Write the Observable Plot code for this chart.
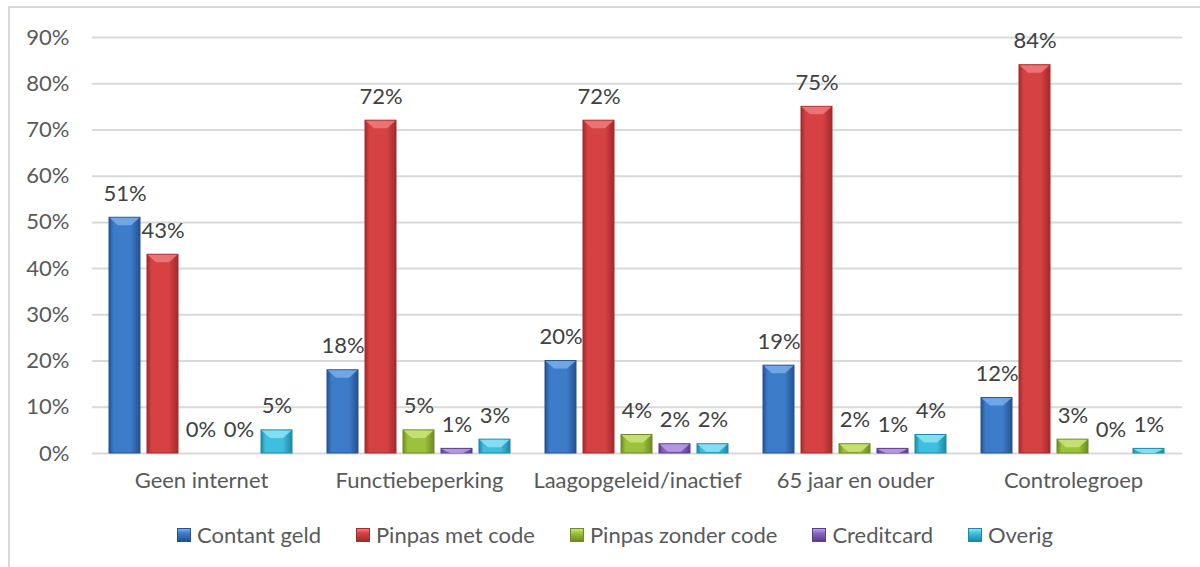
<!DOCTYPE html>
<html>
<head>
<meta charset="utf-8">
<script src="https://cdn.jsdelivr.net/npm/d3@7"></script>
<script src="https://cdn.jsdelivr.net/npm/@observablehq/plot@0.6"></script>
<style>
  html, body { margin: 0; padding: 0; background: #fff; }
  body { width: 1200px; height: 567px; position: relative; overflow: hidden; font-family: Lato, "Open Sans", sans-serif; }
  #frame { position: absolute; left: 8px; top: 6px; width: 1210px; height: 600px; border: 2px solid #d9d9d9; box-sizing: border-box; }
  #chart { position: absolute; left: 0; top: 0; }
  #legend { position: absolute; left: 0; width: 1230px; top: 521px; display: flex; justify-content: center; gap: 35px; font-size: 22px; color: #595959; }
  .item { display: flex; align-items: center; gap: 6px; white-space: nowrap; }
  .sw { width: 14px; height: 14px; display: inline-block; box-sizing: border-box; }
</style>
</head>
<body>
<div id="frame"></div>
<div id="chart"></div>
<div id="legend"></div>
<script>
const categories = ["Geen internet", "Functiebeperking", "Laagopgeleid/inactief", "65 jaar en ouder", "Controlegroep"];
const series = ["Contant geld", "Pinpas met code", "Pinpas zonder code", "Creditcard", "Overig"];
const contantGeld      = [51, 18, 20, 19, 12];
const pinpasMetCode    = [43, 72, 72, 75, 84];
const pinpasZonderCode = [0, 5, 4, 2, 3];
const creditcard       = [0, 1, 2, 1, 0];
const overig           = [5, 3, 2, 4, 1];
const yTicks = [0, 10, 20, 30, 40, 50, 60, 70, 80, 90];

// colours: [edge dark, middle, light bevel]
const palette = [
  ["#25528f", "#3d7cc9", "#79aee8"],
  ["#a32a2b", "#d64244", "#f07b7b"],
  ["#6f8a25", "#9cc23c", "#cde57a"],
  ["#5a3f8c", "#8a66c4", "#b9a0e6"],
  ["#1f88a6", "#3fbfe0", "#8fe3f6"]
];

const seriesValues = [contantGeld, pinpasMetCode, pinpasZonderCode, creditcard, overig];
const data = [];
categories.forEach((c, ci) => series.forEach((s, si) => data.push({category: c, series: s, value: seriesValues[si][ci]})));

const font = "Lato, 'Open Sans', sans-serif";

const chart = Plot.plot({
  width: 1200,
  height: 510,
  marginTop: 37,
  marginBottom: 57,
  marginLeft: 90,
  marginRight: 17,
  style: {fontFamily: font, fontSize: "22px", color: "#595959", background: "transparent"},
  fx: {domain: categories, padding: 0, label: null},
  x: {domain: series, paddingInner: 0.18, paddingOuter: 0.39, axis: null},
  y: {domain: [0, 90], label: null},
  marks: [
    Plot.gridY(yTicks, {stroke: "#d9d9d9", strokeOpacity: 1, strokeWidth: 2}),
    Plot.axisY(yTicks, {tickSize: 0, tickPadding: 23, tickFormat: d => d + "%", fill: "#595959", fontSize: 22, label: null}),
    Plot.axisFx({anchor: "bottom", tickSize: 0, tickPadding: 19, label: null, fill: "#595959", fontSize: 22}),
    ...series.map((s, i) => Plot.barY(data.filter(d => d.series === s), {
      fx: "category", x: "series", y: "value", fill: `url(#grad${i})`, stroke: palette[i][0], strokeWidth: 1
    })),
    Plot.text(data, {fx: "category", x: "series", y: "value", text: d => d.value + "%", dy: -24, fill: "#404040", fontSize: 22, lineAnchor: "middle"})
  ]
});

document.getElementById("chart").appendChild(chart);

// gradients
const svg = d3.select(chart);
const defs = svg.insert("defs", ":first-child");
palette.forEach((p, i) => {
  const g = defs.append("linearGradient").attr("id", `grad${i}`).attr("x1", 0).attr("x2", 1).attr("y1", 0).attr("y2", 0);
  g.append("stop").attr("offset", "0%").attr("stop-color", p[0]);
  g.append("stop").attr("offset", "15%").attr("stop-color", p[1]);
  g.append("stop").attr("offset", "70%").attr("stop-color", p[1]);
  g.append("stop").attr("offset", "100%").attr("stop-color", p[0]);
});

// bevel on top of each bar
svg.selectAll("g[aria-label='bar']").each(function(_, gi) {
  const light = palette[gi][2];
  d3.select(this).selectAll("rect").each(function() {
    const r = d3.select(this);
    const x = +r.attr("x"), y = +r.attr("y"), w = +r.attr("width"), h = +r.attr("height");
    if (!(h > 0)) return;
    const bh = Math.min(8, h);
    const inset = Math.min(9, w / 2);
    d3.select(this.parentNode).append("polygon")
      .attr("points", [[x + 0.5, y + 0.5], [x + w - 0.5, y + 0.5], [x + w - inset, y + bh], [x + inset, y + bh]].map(q => q.join(",")).join(" "))
      .attr("fill", light).attr("fill-opacity", 0.85).attr("stroke", "none");
  });
});

// legend
const legend = d3.select("#legend");
series.forEach((s, i) => {
  const it = legend.append("div").attr("class", "item");
  it.append("span").attr("class", "sw")
    .style("background", `linear-gradient(to bottom, ${palette[i][2]} 0%, ${palette[i][1]} 35%, ${palette[i][0]} 100%)`)
    .style("border", `1px solid ${palette[i][0]}`);
  it.append("span").text(s);
});
</script>
</body>
</html>
